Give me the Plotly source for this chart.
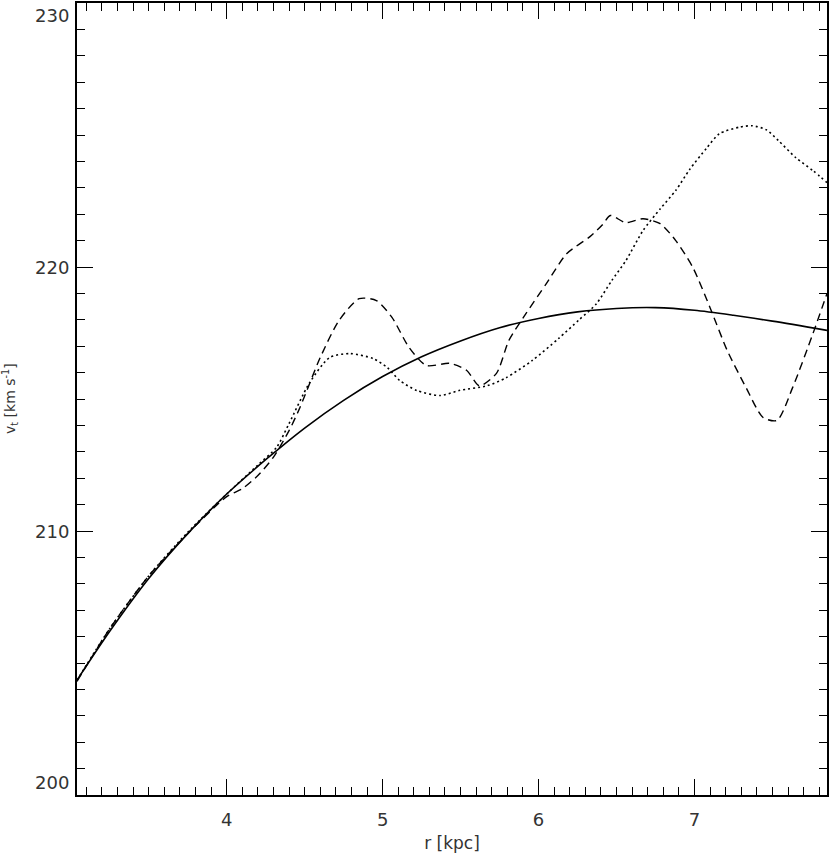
import plotly.graph_objects as go

# solid curve (model)
r_solid = [3.04, 3.25, 3.5, 3.75, 4.0, 4.25, 4.5, 4.75, 5.0, 5.25, 5.5, 5.75,
           6.0, 6.25, 6.5, 6.75, 7.0, 7.25, 7.5, 7.85]
v_solid = [204.35, 206.2, 208.2, 209.9, 211.4, 212.7, 213.9, 214.95, 215.85, 216.6, 217.2, 217.7,
           218.05, 218.3, 218.43, 218.46, 218.36, 218.17, 217.95, 217.6]

# dashed curve
r_dash = [3.04, 3.25, 3.5, 3.75, 4.0, 4.1, 4.2, 4.3, 4.4, 4.47, 4.60, 4.72, 4.85, 4.96,
          5.06, 5.17, 5.28, 5.43, 5.54, 5.62, 5.73, 5.81, 5.92, 6.05, 6.18, 6.33, 6.41,
          6.46, 6.56, 6.67, 6.78, 6.88, 6.99, 7.10, 7.21, 7.33, 7.44, 7.53, 7.63, 7.76, 7.85]
v_dash = [204.3, 206.3, 208.3, 209.9, 211.3, 211.6, 212.1, 212.8, 213.8, 214.68, 216.57, 217.97,
          218.8, 218.73, 218.09, 216.95, 216.27, 216.35, 216.08, 215.5, 215.97, 217.22, 218.24,
          219.37, 220.5, 221.15, 221.6, 221.95, 221.68, 221.83, 221.64, 221.0, 219.98, 218.46,
          216.84, 215.44, 214.3, 214.19, 215.44, 217.48, 219.0]

# dotted curve
r_dot = [3.04, 3.25, 3.5, 3.75, 4.0, 4.2, 4.32, 4.40, 4.53, 4.66, 4.79, 4.94, 5.03, 5.11,
         5.22, 5.37, 5.49, 5.67, 5.79, 5.96, 6.13, 6.26, 6.37, 6.47, 6.56, 6.67, 6.78, 6.88,
         6.97, 7.08, 7.16, 7.29, 7.37, 7.46, 7.54, 7.65, 7.76, 7.85]
v_dot = [204.35, 206.3, 208.3, 209.95, 211.4, 212.5, 213.17, 214.07, 215.6, 216.57, 216.72,
         216.53, 216.19, 215.7, 215.32, 215.13, 215.32, 215.5, 215.8, 216.46, 217.3, 218.0,
         218.6, 219.49, 220.24, 221.38, 222.2, 222.9, 223.7, 224.52, 225.05, 225.3, 225.35,
         225.2, 224.78, 224.14, 223.65, 223.2]

x_ticks = [4, 5, 6, 7]
y_ticks = [200, 210, 220, 230]

fnt = dict(family="DejaVu Sans", size=18, color="#333")

fig = go.Figure()
fig.add_trace(go.Scatter(x=r_solid, y=v_solid, mode="lines", line_shape="spline",
                         line=dict(color="black", width=1.6, smoothing=0.8)))
fig.add_trace(go.Scatter(x=r_dash, y=v_dash, mode="lines", line_shape="spline",
                         line=dict(color="black", width=1.4, dash="8px,5px", smoothing=0.7)))
fig.add_trace(go.Scatter(x=r_dot, y=v_dot, mode="lines", line_shape="spline",
                         line=dict(color="black", width=1.6, dash="2px,3px", smoothing=0.7)))

axis = dict(showgrid=False, zeroline=False, showline=True, linecolor="black", linewidth=1.5,
            mirror="ticks", ticks="inside", ticklen=16, tickwidth=1.3, tickcolor="black")

fig.update_xaxes(axis, range=[3.04, 7.85], tickvals=x_ticks, ticktext=[str(t) for t in x_ticks],
                 tickfont=fnt, ticklabelstandoff=8,
                 minor=dict(dtick=0.1, tick0=0, ticks="inside", ticklen=8, tickwidth=1.2,
                            tickcolor="black"),
                 title=dict(text="r [kpc]", font=dict(family="DejaVu Sans", size=17, color="#333"),
                            standoff=8))
fig.update_yaxes(axis, range=[200, 230], tickvals=y_ticks, showticklabels=False,
                 minor=dict(dtick=1, tick0=0, ticks="inside", ticklen=8, tickwidth=1.2,
                            tickcolor="black"))

# y tick labels and title as annotations (edge labels sit inside the frame)
for t in y_ticks:
    anchor = "top" if t == y_ticks[-1] else ("bottom" if t == y_ticks[0] else "middle")
    fig.add_annotation(x=0, xref="paper", y=t, yref="y", text=str(t), showarrow=False,
                       xanchor="right", yanchor=anchor, xshift=-6, font=fnt)
fig.add_annotation(x=0, xref="paper", y=0.5, yref="paper", xshift=-67, textangle=-90,
                   xanchor="center", yanchor="middle",
                   text="v<sub>t</sub> [km s<sup>-1</sup>]", showarrow=False,
                   font=dict(family="DejaVu Sans", size=14, color="#333"))

fig.update_layout(width=830, height=853, margin=dict(l=77, r=1, t=2, b=58),
                  plot_bgcolor="white", paper_bgcolor="white", showlegend=False)

fig.write_html("out.html", config={"displayModeBar": False},
               post_script="document.body.style.margin='0';document.body.style.overflow='hidden';")
